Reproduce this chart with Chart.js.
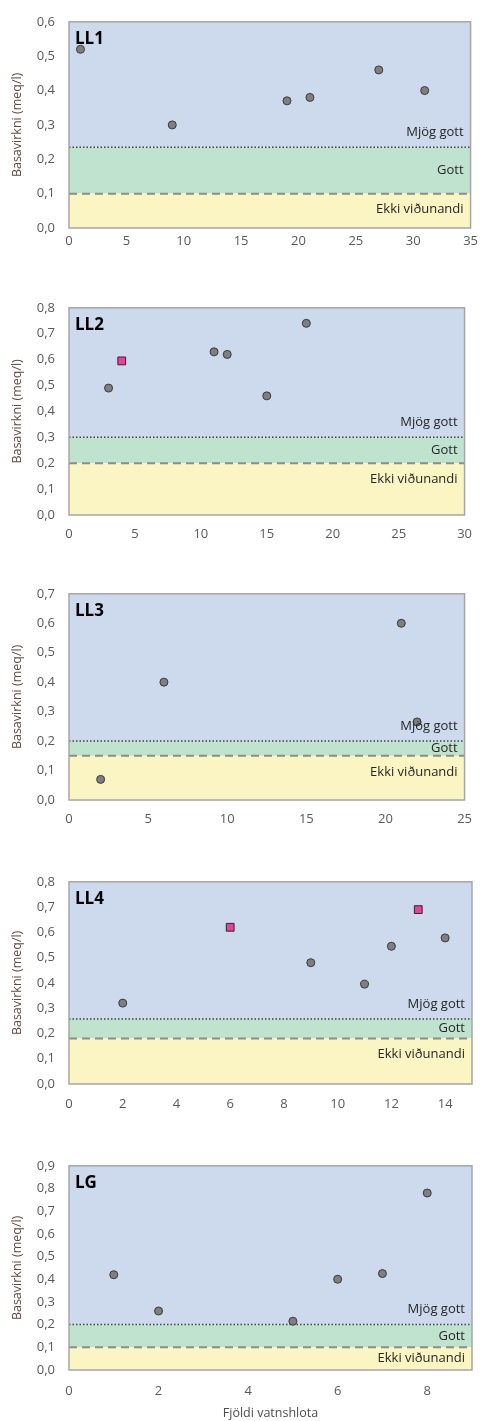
<!DOCTYPE html>
<html>
<head>
<meta charset="utf-8">
<script src="https://cdn.jsdelivr.net/npm/chart.js@4.4.1/dist/chart.umd.min.js"></script>
<style>
  html, body { margin: 0; padding: 0; background: #fff; overflow: hidden; }
  .panel { position: absolute; left: 0; }
</style>
</head>
<body>
<div id="wrap"></div>
<script>
// ── Data ────────────────────────────────────────────────────

const panelNames = ["LL1", "LL2", "LL3", "LL4", "LG"];
const xMax = [35, 30, 25, 15, 9];
const xStep = [5, 5, 5, 2, 2];
const yMax = [0.6, 0.8, 0.7, 0.8, 0.9];

// grey circles
const ll1X = [1, 9, 19, 21, 27, 31];
const ll1Y = [0.52, 0.30, 0.37, 0.38, 0.46, 0.40];
const ll2X = [3, 11, 12, 15, 18];
const ll2Y = [0.49, 0.63, 0.62, 0.46, 0.74];
const ll3X = [2, 6, 21, 22];
const ll3Y = [0.07, 0.40, 0.60, 0.265];
const ll4X = [2, 9, 11, 12, 14];
const ll4Y = [0.32, 0.48, 0.395, 0.545, 0.578];
const lgX = [1, 2, 5, 6, 7, 8];
const lgY = [0.42, 0.26, 0.215, 0.40, 0.425, 0.78];

// pink squares
const ll2SqX = [4];
const ll2SqY = [0.595];
const ll4SqX = [6, 13];
const ll4SqY = [0.62, 0.69];

// class limits: "Mjög gott" above the dotted line, "Ekki viðunandi" below the dashed line
const goodLimit = [0.235, 0.30, 0.20, 0.257, 0.20];
const poorLimit = [0.10, 0.20, 0.15, 0.18, 0.10];
const bandLabels = ["Mjög gott", "Gott", "Ekki viðunandi"];

const circleX = [ll1X, ll2X, ll3X, ll4X, lgX];
const circleY = [ll1Y, ll2Y, ll3Y, ll4Y, lgY];
const squareX = [[], ll2SqX, [], ll4SqX, []];
const squareY = [[], ll2SqY, [], ll4SqY, []];

// ── Layout ──────────────────────────────────────────────────

const plotTop = [17, 303, 589, 877, 1161];
const plotBottom = [228, 515, 800, 1084, 1370];
const plotRight = [471, 474, 471, 472, 472];
const xTickPad = [5, 11, 11, 12, 13];
const FONT = "'Open Sans', 'Noto Sans', sans-serif";

const toPoints = (xs, ys) => xs.map((x, i) => ({ x, y: ys[i] }));
const comma = (v) => Number(v).toFixed(1).replace(".", ",");

// ── Plugin: coloured bands, labels, frame ───────────────────

const bandsPlugin = {
  id: "bands",
  beforeDatasetsDraw(chart, args, opts) {
    const { ctx, chartArea: a, scales: { y } } = chart;
    const hi = y.getPixelForValue(opts.hi);
    const lo = y.getPixelForValue(opts.lo);
    ctx.save();
    ctx.fillStyle = "#cdd9ed";
    ctx.fillRect(a.left, a.top, a.right - a.left, hi - a.top);
    ctx.fillStyle = "#c0e3d0";
    ctx.fillRect(a.left, hi, a.right - a.left, lo - hi);
    ctx.fillStyle = "#fbf4c3";
    ctx.fillRect(a.left, lo, a.right - a.left, a.bottom - lo);
    ctx.restore();
  },
  afterDatasetsDraw(chart, args, opts) {
    const { ctx, chartArea: a, scales: { y } } = chart;
    const hi = y.getPixelForValue(opts.hi);
    const lo = y.getPixelForValue(opts.lo);
    ctx.save();
    ctx.fillStyle = "#262626";
    ctx.font = `13px ${FONT}`;
    ctx.textAlign = "right";
    ctx.textBaseline = "middle";
    const tx = a.right - 7;
    ctx.fillText(bandLabels[0], tx, hi - 15);
    ctx.fillText(bandLabels[1], tx, (hi + lo) / 2);
    ctx.fillText(bandLabels[2], tx, Math.min(lo + 16, (lo + a.bottom) / 2));

    ctx.fillStyle = "#000";
    ctx.font = `bold 17px ${FONT}`;
    ctx.textAlign = "left";
    ctx.fillText(opts.name, a.left + 6, a.top + 17);

    ctx.strokeStyle = "#a6a6a6";
    ctx.lineWidth = 1.5;
    ctx.strokeRect(a.left, a.top, a.right - a.left, a.bottom - a.top);
    ctx.restore();
  },
};

// ── Build panels ────────────────────────────────────────────

const wrap = document.getElementById("wrap");

panelNames.forEach((name, i) => {
  const last = i === panelNames.length - 1;
  const xAxisH = last ? 52 : 26;
  const height = plotBottom[i] - plotTop[i] + 17 + xAxisH;

  const div = document.createElement("div");
  div.className = "panel";
  div.style.top = `${plotTop[i] - 17}px`;
  const canvas = document.createElement("canvas");
  canvas.width = 483;
  canvas.height = height;
  canvas.style.width = "483px";
  canvas.style.height = `${height}px`;
  div.appendChild(canvas);
  wrap.appendChild(div);

  new Chart(canvas.getContext("2d"), {
    type: "scatter",
    data: {
      datasets: [
        {
          data: toPoints(circleX[i], circleY[i]),
          pointRadius: 4,
          backgroundColor: "#7f7f7f",
          borderColor: "#3a3a3a",
          borderWidth: 1,
          order: 0,
        },
        {
          data: toPoints(squareX[i], squareY[i]),
          pointStyle: "rect",
          pointRadius: 5.5,
          backgroundColor: "#e0459e",
          borderColor: "#3d1f2e",
          borderWidth: 1,
          order: 0,
        },
        {
          type: "line",
          data: [{ x: 0, y: goodLimit[i] }, { x: xMax[i], y: goodLimit[i] }],
          borderColor: "#404040",
          borderWidth: 1.5,
          borderDash: [1.5, 2],
          pointRadius: 0,
          order: 2,
        },
        {
          type: "line",
          data: [{ x: 0, y: poorLimit[i] }, { x: xMax[i], y: poorLimit[i] }],
          borderColor: "#8c8c8c",
          borderWidth: 2,
          borderDash: [8, 5],
          pointRadius: 0,
          order: 2,
        },
      ],
    },
    options: {
      responsive: false,
      animation: false,
      events: [],
      layout: { padding: { top: 17, left: 0, right: 483 - plotRight[i], bottom: 0 } },
      plugins: {
        legend: { display: false },
        tooltip: { enabled: false },
        bands: { hi: goodLimit[i], lo: poorLimit[i], name },
      },
      scales: {
        x: {
          type: "linear",
          min: 0,
          max: xMax[i],
          afterFit(s) { s.height = xAxisH; },
          grid: { display: false, drawTicks: false },
          border: { display: false },
          ticks: {
            stepSize: xStep[i],
            includeBounds: false,
            padding: xTickPad[i],
            color: "#595959",
            font: { family: FONT, size: 13 },
          },
          title: {
            display: last,
            text: "Fjöldi vatnshlota",
            color: "#4d4d4d",
            font: { family: FONT, size: 12.5 },
            padding: { top: 0, bottom: 1 },
          },
        },
        y: {
          min: 0,
          max: yMax[i],
          afterFit(s) { s.width = 69; },
          grid: { display: false, drawTicks: false },
          border: { display: false },
          ticks: {
            stepSize: 0.1,
            padding: 14,
            color: "#595959",
            font: { family: FONT, size: 13 },
            callback: comma,
          },
          title: {
            display: true,
            text: "Basavirkni (meq/l)",
            color: "#5e4b45",
            font: { family: FONT, size: 12.5 },
            padding: { top: 10, bottom: 0 },
          },
        },
      },
    },
    plugins: [bandsPlugin],
  });
});
</script>
</body>
</html>
